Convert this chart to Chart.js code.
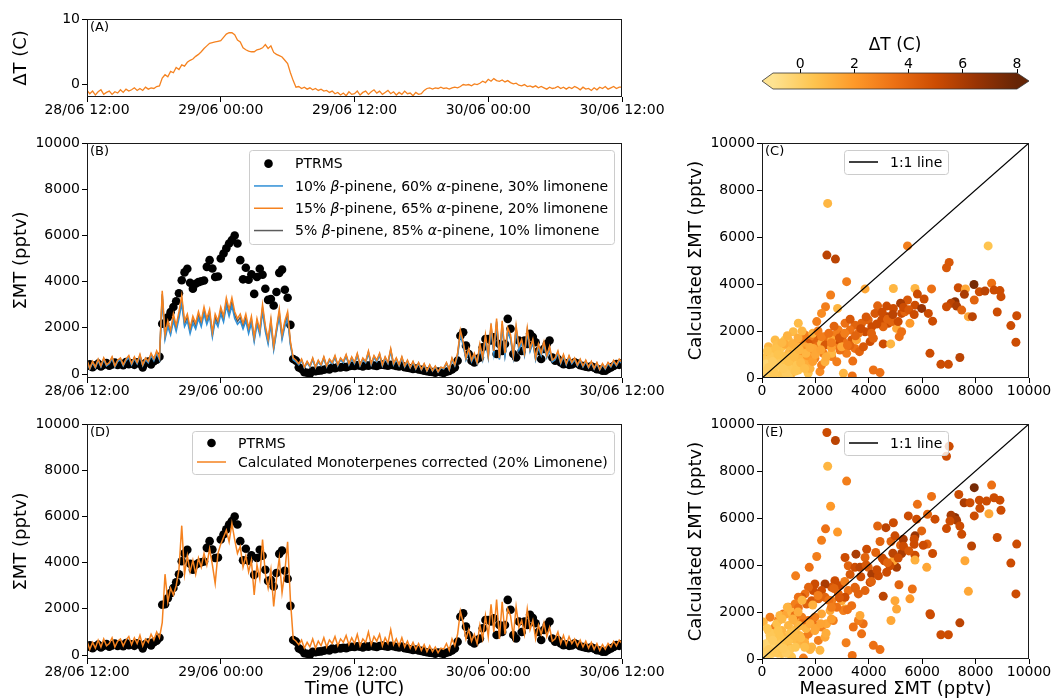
<!DOCTYPE html>
<html>
<head>
<meta charset="utf-8">
<title>Monoterpenes PTRMS vs calculated</title>
<script src="https://cdn.jsdelivr.net/npm/chart.js@4.4.1/dist/chart.umd.min.js"></script>
<style>
  html, body { margin: 0; padding: 0; background: #fff; }
  body { position: relative; width: 1052px; height: 700px; overflow: hidden; }
  canvas { position: absolute; }
</style>
</head>
<body>
<canvas id="chartA"></canvas>
<canvas id="colorbar"></canvas>
<canvas id="chartB"></canvas>
<canvas id="chartC"></canvas>
<canvas id="chartD"></canvas>
<canvas id="chartE"></canvas>
<script>
// time axis: hours after 28/06 12:00
const timeTickHours = [0, 12, 24, 36, 48];
const timeTickLabels = ['28/06 12:00', '29/06 00:00', '29/06 12:00', '30/06 00:00', '30/06 12:00'];
const mtTicks = [0, 2000, 4000, 6000, 8000, 10000];
const dtTicks = [0, 10];
const colorbarTicks = [0, 2, 4, 6, 8];

// all time series every 15 min
const stepHours = 0.25;

// (A) temperature difference (C)
const deltaT = [
  -0.9, -1.4, -1.0, -1.6, -1.1, -0.8, -1.5, -1.2,
  -1.0, -1.5, -1.1, -1.3, -0.8, -1.2, -0.7, -1.0,
  -0.8, -0.5, -0.9, -0.6, -0.9, -0.4, -0.7, -0.5,
  -0.6, -0.3, -0.2, 1.0, 1.5, 1.2, 2.0, 1.8,
  2.6, 2.3, 3.0, 2.8, 3.4, 3.7, 3.9, 4.3,
  4.6, 5.0, 5.5, 5.9, 6.3, 6.4, 6.5, 6.6,
  6.7, 7.2, 7.7, 7.9, 7.9, 7.6, 6.8, 6.5,
  5.6, 5.3, 5.1, 5.0, 5.0, 5.3, 5.4, 5.6,
  6.1, 5.5, 5.9, 4.9, 4.6, 4.4, 4.2, 3.7,
  3.2, 1.8, 0.6, -0.4, -0.3, -0.6, -0.4, -0.7,
  -0.5, -0.8, -0.6, -0.9, -0.7, -1.0, -0.9, -1.2,
  -1.0, -1.4, -1.2, -1.6, -1.3, -1.7, -1.1, -1.5,
  -1.4, -1.0, -1.6, -1.2, -1.0, -1.5, -1.1, -0.8,
  -1.3, -1.0, -1.5, -1.2, -0.9, -1.4, -1.1, -1.6,
  -1.2, -1.5, -1.0, -1.4, -1.3, -1.7, -1.2, -1.5,
  -1.4, -0.9, -0.6, -0.5, -0.7, -0.5, -0.6, -0.4,
  -0.6, -0.5, -0.7, -0.5, -0.4, -0.5, -0.3, 0.0,
  -0.1, 0.0, -0.2, 0.1, 0.0, 0.2, 0.5, 0.3,
  0.8, 0.5, 0.9, 0.6, 0.5, 0.7, 0.4, 0.6,
  0.3, 0.1, 0.2, -0.1, -0.2, 0.0, -0.3, -0.2,
  -0.4, -0.2, -0.5, -0.3, -0.5, -0.7, -0.4, -0.6,
  -0.5, -0.3, -0.6, -0.4, -0.7, -0.4, -0.6, -0.3,
  -0.5, -0.8, -0.4, -0.7, -0.6, -0.9, -0.5, -0.8,
  -0.4, -0.6, -0.3, -0.7, -0.5, -0.3, -0.6, -0.4,
  -0.4
];

// (B)/(D) monoterpenes (pptv)
const ptrms = [
  350, 420, 300, 380, 450, 330, 400, 480,
  360, 420, 500, 390, 450, 380, 520, 430,
  470, 400, 510, 450, 290, 480, 540, 420,
  560, 620, 750, 2180, 2200, 2460, 2680, 2900,
  3150, 3500, 4060, 4400, 4560, 3950, 3690, 3910,
  3980, 4020, 4050, 4640, 4930, 4570, 4200, 4220,
  5000, 5220, 5440, 5650, 5800, 6000, 5650, 4930,
  4100, 4600, 4080, 4320, 3470, 4200, 4560, 4300,
  3690, 3210, 3250, 2970, 3550, 4380, 4520, 3650,
  3300, 2130, 650, 580, 290, 220, 80, 60,
  10, 145, 120, 150, 160, 190, 220, 200,
  280, 250, 300, 290, 320, 300, 340, 360,
  350, 380, 360, 330, 380, 360, 400, 370,
  350, 390, 410, 380, 360, 400, 380, 350,
  330, 370, 300, 280, 250, 220, 240, 200,
  180, 150, 120, 100, 90, 60, 110, 80,
  50, 100, 140, 200, 290, 580, 1660, 1810,
  1230, 870, 580, 500, 650, 720, 1160, 1520,
  1520, 1450, 1590, 870, 1300, 1000, 1300, 2390,
  1960, 870, 720, 1450, 1000, 1450, 1300, 1740,
  1600, 1380, 1000, 650, 1090, 1300, 1450, 720,
  580, 650, 500, 430, 470, 400, 420, 510,
  460, 380, 350, 320, 300, 340, 280, 215,
  200, 150, 145, 220, 290, 350, 430, 400,
  480
];
const calc10Beta = [
  530, 220, 490, 270, 580, 310, 620, 360,
  450, 670, 310, 540, 620, 360, 580, 710,
  400, 670, 450, 760, 360, 620, 490, 800,
  580, 890, 620, 3300, 1500, 2050, 1700, 2300,
  1850, 2400, 3050, 2050, 2300, 1750, 2200, 1950,
  2400, 2050, 2600, 2150, 2500, 1600, 2300, 2050,
  2600, 2250, 2950, 2500, 2950, 2400, 2150, 2300,
  1950, 2300, 1750, 2200, 1400, 2150, 1700, 2700,
  1850, 1300, 2150, 1050, 1800, 2500, 1500, 2050,
  2400, 1250, 620, 530, 400, 580, 270, 490,
  310, 620, 270, 530, 360, 670, 310, 580,
  450, 710, 360, 620, 490, 760, 400, 670,
  450, 800, 360, 620, 490, 890, 400, 710,
  530, 800, 360, 670, 450, 980, 400, 620,
  360, 670, 310, 530, 270, 490, 220, 450,
  180, 400, 130, 360, 130, 310, 90, 270,
  220, 450, 180, 620, 360, 800, 1700, 1250,
  620, 980, 530, 800, 450, 1150, 620, 1500,
  710, 1950, 890, 2150, 620, 2050, 800, 1800,
  1500, 710, 1850, 1050, 1350, 800, 1800, 980,
  1350, 620, 1150, 800, 1250, 710, 1050, 530,
  620, 890, 450, 760, 400, 710, 450, 620,
  360, 580, 310, 530, 270, 490, 220, 450,
  180, 400, 220, 450, 310, 530, 360, 580,
  450
];
const calc15Beta = [
  600, 250, 550, 300, 650, 350, 700, 400,
  500, 750, 350, 600, 700, 400, 650, 800,
  450, 750, 500, 850, 400, 700, 550, 900,
  650, 1000, 700, 3600, 1700, 2300, 1900, 2600,
  2100, 2700, 3400, 2300, 2600, 2000, 2500, 2200,
  2700, 2300, 2900, 2400, 2800, 1800, 2600, 2300,
  2900, 2500, 3300, 2800, 3300, 2700, 2400, 2600,
  2200, 2600, 2000, 2500, 1600, 2400, 1900, 3000,
  2100, 1500, 2400, 1200, 2000, 2800, 1700, 2300,
  2700, 1400, 700, 600, 450, 650, 300, 550,
  350, 700, 300, 600, 400, 750, 350, 650,
  500, 800, 400, 700, 550, 850, 450, 750,
  500, 900, 400, 700, 550, 1000, 450, 800,
  600, 900, 400, 750, 500, 1100, 450, 700,
  400, 750, 350, 600, 300, 550, 250, 500,
  200, 450, 150, 400, 150, 350, 100, 300,
  250, 500, 200, 700, 400, 900, 1900, 1400,
  700, 1100, 600, 900, 500, 1300, 700, 1700,
  800, 2200, 1000, 2400, 700, 2300, 900, 2000,
  1700, 800, 2100, 1200, 1500, 900, 2000, 1100,
  1500, 700, 1300, 900, 1400, 800, 1200, 600,
  700, 1000, 500, 850, 450, 800, 500, 700,
  400, 650, 350, 600, 300, 550, 250, 500,
  200, 450, 250, 500, 350, 600, 400, 650,
  500
];
const calc5Beta = [
  570, 235, 520, 285, 615, 330, 660, 380,
  475, 710, 330, 570, 660, 380, 615, 755,
  425, 710, 475, 805, 380, 660, 520, 850,
  615, 945, 660, 3450, 1600, 2175, 1800, 2450,
  1975, 2550, 3225, 2175, 2450, 1875, 2350, 2075,
  2550, 2175, 2750, 2275, 2650, 1700, 2450, 2175,
  2750, 2375, 3125, 2650, 3125, 2550, 2275, 2450,
  2075, 2450, 1875, 2350, 1500, 2275, 1800, 2850,
  1975, 1400, 2275, 1125, 1900, 2650, 1600, 2175,
  2550, 1325, 660, 565, 425, 615, 285, 520,
  330, 660, 285, 565, 380, 710, 330, 615,
  475, 755, 380, 660, 520, 805, 425, 710,
  475, 850, 380, 660, 520, 945, 425, 755,
  565, 850, 380, 710, 475, 1040, 425, 660,
  380, 710, 330, 565, 285, 520, 235, 475,
  190, 425, 140, 380, 140, 330, 95, 285,
  235, 475, 190, 660, 380, 850, 1800, 1325,
  660, 1040, 565, 850, 475, 1225, 660, 1600,
  755, 2075, 945, 2275, 660, 2175, 850, 1900,
  1600, 755, 1975, 1125, 1425, 850, 1900, 1040,
  1425, 660, 1225, 850, 1325, 755, 1125, 565,
  660, 945, 475, 805, 425, 755, 475, 660,
  380, 615, 330, 565, 285, 520, 235, 475,
  190, 425, 235, 475, 330, 565, 380, 615,
  475
];
const calcCorrected = [
  600, 250, 550, 300, 650, 350, 700, 400,
  500, 750, 350, 600, 700, 400, 650, 800,
  450, 750, 500, 850, 400, 700, 550, 900,
  650, 1000, 750, 1400, 3500, 2300, 2900, 2600,
  3000, 3700, 5600, 3500, 4300, 3600, 4100, 3500,
  4200, 3800, 4400, 3900, 4600, 3900, 3100, 4400,
  4800, 5100, 5400, 4900, 5700, 5000, 4400, 4700,
  3800, 4300, 3600, 4100, 2600, 3900, 3300, 5000,
  3500, 2900, 3700, 2100, 3300, 4200, 2700, 3600,
  4900, 2400, 700, 600, 450, 650, 300, 550,
  350, 700, 300, 600, 400, 750, 350, 650,
  500, 800, 400, 700, 550, 850, 450, 750,
  500, 900, 400, 700, 550, 1000, 450, 800,
  600, 900, 400, 750, 500, 1100, 450, 700,
  400, 750, 350, 600, 300, 550, 250, 500,
  200, 450, 150, 400, 150, 350, 100, 300,
  250, 500, 200, 700, 400, 900, 1900, 1400,
  700, 1100, 600, 900, 500, 1300, 700, 1700,
  800, 2200, 1000, 2400, 700, 2300, 900, 2000,
  1700, 800, 2100, 1200, 1500, 900, 2000, 1100,
  1500, 700, 1300, 900, 1400, 800, 1200, 600,
  700, 1000, 500, 850, 450, 800, 500, 700,
  400, 650, 350, 600, 300, 550, 250, 500,
  200, 450, 250, 500, 350, 600, 400, 650,
  500
];

// (C) measured vs calculated (15% b-pinene mix), coloured by dT
const cMeasured = [
  2460, 2430, 2750, 5450, 8470, 3170, 3860, 2570, 2380, 2230,
  2050, 1360, 2830, 7010, 6910, 4920, 5730, 6350, 7350, 7620,
  7940, 8140, 8350, 8600, 8690, 8910, 8950, 7950, 7580, 7230,
  7080, 6910, 7290, 7480, 7730, 7880, 8810, 9540, 9320, 9510,
  5820, 6070, 5450, 5190, 5230, 5540, 5730, 6230, 6390, 5980,
  4920, 4670, 4330, 4730, 5040, 5140, 4860, 4480, 4230, 3980,
  4110, 4540, 3730, 3480, 3110, 3300, 3860, 3610, 2860, 2730,
  2360, 2110, 1920, 1800, 1730, 2050, 2230, 2480, 2800, 3040,
  3360, 3480, 3170, 2920, 2610, 2300, 1980, 2170, 2800, 3400,
  3380, 4170, 4420, 3650, 4540, 4820, 6290, 6700, 6980, 7410,
  2860, 1490, 1240, 990, 1170, 860, 1610, 1490, 1300, 990,
  740, 490, 240, 170, 490, 300, 740, 990, 1240, 1490,
  1730, 1360, 1110, 860, 610, 360, 110, 240, 490, 50,
  420, 740, 990, 110, 2230, 2360, 2610, 3050, 1170, 930,
  620, 1610, 1860, 1920, 1610, 2360, 2980, 3290, 3040, 4050,
  3800, 4170, 3540, 2610, 2230, 5230, 4700, 5350, 200, 350,
  600, 800, 1050, 1250, 1400, 650, 300, 500, 900, 1150,
  1350, 1600, 1800, 700, 400, 150, 1000, 550, 1300, 1700,
  1900, 1550, 850, 100, 250, 450, 650, 850, 1050, 1250,
  1450, 1650, 350, 550, 750, 950, 1150, 1350, 200, 400,
  600, 800, 1000, 1200, 1400, 1600, 1800, 2000, 2200, 2400,
  2600, 1900, 1500, 2100, 2500, 2700, 2900, 3100, 3300, 3500,
  3700, 3900, 4100, 4300, 4500, 4700, 4900, 5100, 5300, 5500,
  5700, 2600, 3200
];
const cCalculated = [
  7430, 5230, 5060, 5620, 5620, 4100, 3790, 3530, 3030, 2750,
  2400, 2330, 2960, 4920, 4690, 3810, 3810, 3790, 3840, 3790,
  3980, 3670, 3700, 4030, 3740, 3720, 3460, 3320, 3560, 3250,
  3180, 3030, 3060, 2890, 2610, 2610, 2810, 2650, 2230, 1520,
  3570, 3360, 3320, 3180, 2750, 2330, 3100, 2750, 2420, 2960,
  2960, 3060, 3070, 2330, 2110, 1760, 2400, 2470, 2750, 2470,
  2180, 2180, 2330, 2250, 2330, 2040, 1970, 1900, 2040, 1830,
  1760, 1690, 1620, 1760, 1470, 1330, 1470, 1550, 1400, 1550,
  1620, 1260, 1050, 1190, 910, 1050, 840, 270, 690, 720,
  90, 340, 230, 1120, 1450, 1450, 1050, 580, 580, 870,
  1620, 1620, 1470, 1620, 1970, 1620, 1330, 1050, 910, 1050,
  1330, 1620, 1330, 910, 980, 1050, 770, 620, 690, 480,
  200, 340, 200, 340, 480, 340, 200, 620, 690, 480,
  130, 130, 60, 770, 550, 690, 1050, 200, 1120, 770,
  840, 770, 1050, 1260, 1830, 1400, 1330, 1380, 1830, 1550,
  1330, 1690, 1620, 1620, 1760, 1970, 2610, 2820, 300, 550,
  250, 900, 400, 1100, 800, 1100, 800, 400, 200, 850,
  1300, 600, 400, 650, 1150, 600, 1350, 1400, 550, 950,
  700, 1150, 1450, 100, 450, 250, 550, 750, 950, 300,
  650, 1050, 900, 1250, 1500, 1800, 1450, 1700, 1150, 700,
  1000, 400, 700, 900, 1200, 400, 1300, 1000, 1200, 900,
  1300, 1900, 2000, 2000, 1900, 2200, 1700, 1900, 2500, 1800,
  2100, 2600, 1900, 2300, 2800, 2500, 2700, 2400, 3000, 2900,
  2700, 1500, 1400
];
const cDeltaT = [
  1, 5.5, 5.5, 3, 0.5, 3, 1.5, 3, 3, 2.5,
  3, 0.8, 1, 4.5, 4.5, 1, 1, 3.5, 5, 1.5,
  7.5, 5, 5.5, 3.5, 5, 5, 5, 4, 6, 7,
  5.5, 5, 6, 4, 1.5, 5.5, 5, 5, 5, 5,
  5, 5, 4.5, 6, 5, 2, 5, 5, 5, 6.5,
  5, 5, 4, 5, 1.5, 3.5, 4, 5, 4.5, 4,
  5, 4, 4, 4, 3.5, 3.5, 5, 3.5, 3, 3,
  3.5, 4.5, 4, 3, 4.5, 3.5, 1, 3.5, 3, 3.5,
  4.5, 3.5, 3, 3.5, 3, 3, 3, 2.5, 3, 3.5,
  3.5, 3.5, 3.5, 4, 5, 1, 5, 5, 5, 5.5,
  5, 3, 1.5, 1, 0.8, 0.5, 1.5, 0.5, 2, 1,
  0.5, 0.8, 1, 0.5, 2.5, 2, 0.5, 0.5, 1, 0.5,
  0.5, 0.5, 1, 0.5, 0, 0, 0, 0.5, 1, 0,
  0.3, 0.3, 0, 0.3, 3, 1.2, 1, 1, 2.5, 2,
  0.5, 1.5, 3, 1.5, 3, 4.5, 1.5, 4, 4, 5,
  4.5, 4, 1.5, 1.5, 3, 3.5, 5.5, 4, 0, 0.2,
  0.4, 0.6, 0.3, 0.7, 1, 0.5, 0.2, -0.2, 0.1, 0.8,
  1.2, 1.3, 1.1, 0.3, 0.6, -0.3, 0.9, 0.7, 0.4, 2,
  1.8, 2.2, 1.4, 0, 0.1, 0.3, 0.2, 0.5, 0.6, 0.4,
  0.8, 1, 0.3, 0.6, 0.9, 1.1, 1.2, 1.3, 0.4, 0.1,
  0.5, 0.2, 0.6, 0.8, 1, 0.7, 1.4, 1.5, 1.6, 1.3,
  1.8, 1.2, 1, 3, 3.5, 4, 4.5, 3, 4.5, 4,
  5, 4.5, 4, 5, 5, 4, 5.5, 5, 5, 4.5,
  5, 3, 3.5
];

// (E) measured vs corrected calculation
const eMeasured = [
  2430, 2750, 7010, 6910, 2460, 3170, 7950, 8600, 6350, 7370,
  7570, 7790, 8140, 8410, 8690, 8910, 8950, 8500, 8160, 7950,
  7230, 7080, 7290, 6910, 7040, 7410, 7480, 7850, 8810, 9540,
  9320, 9510, 7600, 7730, 7410, 6700, 6980, 6310, 6170, 6390,
  6190, 5980, 6200, 6480, 5790, 5820, 5480, 4920, 4640, 4330,
  4420, 4830, 4980, 5190, 5290, 5730, 5700, 6040, 5730, 5730,
  5230, 5040, 4920, 4790, 4580, 4260, 3920, 3860, 3520, 3110,
  3230, 3480, 3670, 3980, 4110, 4050, 4360, 4670, 4540, 5130,
  4980, 5040, 4830, 5540, 5630, 6290, 2230, 2380, 2830, 2570,
  2050, 1770, 1260, 3150, 3380, 4170, 4420, 3730, 3790, 3610,
  3670, 3420, 3110, 3050, 3360, 3610, 3860, 3480, 3230, 2920,
  2730, 2610, 2360, 2230, 1980, 1920, 1740, 1610, 1490, 1360,
  1240, 990, 800, 610, 300, 50, 240, 670, 920, 1110,
  1360, 1670, 1860, 2110, 2360, 2610, 2860, 2980, 3110, 2800,
  2550, 2230, 1980, 1730, 1490, 1240, 990, 740, 490, 300,
  110, 490, 740, 1110, 1550, 990, 1360, 1610, 1740, 1980,
  2230, 2420, 2670, 2110, 1860, 2170, 1240, 610, 860, 360,
  170, 2360, 1980, 1490, 1240, 490, 200, 350, 600, 800,
  1050, 1250, 1400, 650, 300, 500, 900, 1150, 1350, 1600,
  1800, 700, 150, 100, 250, 450, 650, 850, 1050, 1250,
  1450, 1650, 350, 550, 750, 950, 1150, 1350, 200, 400,
  600, 800, 1000, 1200, 1400, 1600, 1800, 2000, 2200, 2400,
  2600, 1900, 1500, 2100, 2500, 2700, 2900, 3100, 3300, 3500,
  3700, 3900, 4100, 4300, 4500, 4700, 4900, 5100, 5300, 5500,
  5700, 2600, 3200
];
const eCalculated = [
  9640, 9300, 9050, 8630, 8200, 7570, 7290, 7400, 6920, 7000,
  6650, 6650, 6760, 6720, 6860, 6760, 6330, 6180, 6410, 6090,
  6020, 6120, 5900, 5550, 5870, 5660, 5310, 4810, 5170, 4890,
  4080, 2770, 4180, 2880, 1540, 1030, 1030, 1880, 3900, 4490,
  4890, 5450, 6160, 5950, 5950, 6580, 6090, 5800, 5590, 5660,
  5000, 5000, 5240, 4840, 5100, 5240, 4880, 4840, 4420, 4210,
  4490, 3900, 4180, 3970, 4180, 4530, 4670, 4320, 4460, 4320,
  3970, 3900, 3900, 3900, 3610, 3260, 3540, 3690, 2670, 3160,
  2480, 2130, 1640, 2560, 2980, 1930, 5050, 5540, 5400, 6500,
  4360, 3900, 3540, 690, 150, 580, 400, 1070, 1500, 1640,
  1850, 1360, 2130, 2060, 2270, 2770, 2910, 3050, 2910, 3120,
  3330, 3050, 3190, 2910, 3190, 2910, 3050, 2770, 2630, 2630,
  2340, 2200, 1920, 1640, 1780, 1570, 1210, 1850, 1920, 1990,
  2170, 2340, 2480, 2560, 2630, 2480, 2770, 2480, 2630, 2200,
  2060, 1920, 1780, 1640, 1780, 1640, 1430, 1210, 1070, 790,
  510, 370, 230, 90, 40, 510, 650, 930, 1070, 1210,
  1360, 1500, 1640, 790, 510, 370, 1070, 790, 930, 230,
  90, 930, 1430, 1500, 1850, 1360, 300, 550, 250, 700,
  400, 1250, 1000, 1000, 1000, 600, 250, 850, 1450, 700,
  400, 650, 650, 150, 400, 300, 600, 800, 1100, 500,
  900, 1300, 1100, 1500, 1700, 2200, 1700, 2000, 1300, 800,
  1200, 450, 800, 1000, 1400, 500, 1500, 1300, 1500, 1100,
  1700, 2300, 2500, 2700, 2500, 3000, 2600, 3300, 3600, 3000,
  3500, 4000, 3300, 3800, 4300, 4100, 4500, 4300, 4800, 4600,
  5100, 2200, 2100
];
const eDeltaT = [
  5, 5.5, 5, 5, 1, 3, 7.5, 3.5, 3.5, 5,
  6, 5, 5, 5, 5, 5, 5, 1.5, 5, 5,
  7, 6, 6, 5, 5, 5, 5, 5.5, 5, 5,
  5, 5, 1.5, 1.5, 5.5, 5, 5, 5, 1.5, 5,
  4, 4, 4, 5, 5, 3.5, 5, 5, 5.5, 4,
  4, 4, 5, 4, 6, 6.5, 5, 5, 5, 1.2,
  6, 6, 1.5, 5, 5, 4, 5, 4, 6, 5,
  4, 5, 5.5, 4, 6, 5, 5, 5, 5.5, 4,
  1.5, 1.5, 1.5, 2, 3.5, 5, 3, 3.5, 2, 2,
  3, 3.5, 3, 3, 3.5, 3.5, 3.5, 3.5, 3.5, 3,
  1.5, 3.5, 1.5, 3, 3.5, 4, 4, 4, 3.5, 5,
  5, 4.5, 6, 5, 5, 5, 4, 3.5, 4.5, 3.5,
  3, 3, 3.5, 3, 3, 1, 1, 1, 1.5, 1,
  3.5, 4, 4.5, 4, 4, 3, 4, 1.5, 5, 3.5,
  1.5, 1.5, 3, 3.5, 3, 1.5, 1, 1, 0.5, 0.3,
  0, 0.5, 0.5, 0.5, 3, 1, 1, 2.5, 3, 1.5,
  3, 1.5, 3, 3, 1, 1, 1, 0.5, 1, 0,
  0, 1.5, 3.5, 3.5, 3.5, 3, 0, 0.2, 0.4, 0.6,
  0.3, 0.7, 1, 0.5, 0.2, -0.2, 0.1, 0.8, 1.2, 1.3,
  1.1, 0.3, -0.3, 0, 0.1, 0.3, 0.2, 0.5, 0.6, 0.4,
  0.8, 1, 0.3, 0.6, 0.9, 1.1, 1.2, 1.3, 0.4, 0.1,
  0.5, 0.2, 0.6, 0.8, 1, 0.7, 1.4, 1.5, 1.6, 1.3,
  1.8, 1.2, 1, 3, 3.5, 4, 4.5, 3, 4.5, 4,
  5, 4.5, 4, 5, 5, 4, 5.5, 5, 5, 4.5,
  5, 3, 3.5
];
const oneToOne = [0, 10000];

Chart.defaults.font.family = '"DejaVu Sans", sans-serif';
Chart.defaults.font.size = 14;
Chart.defaults.color = '#000';

const BLUE = '#2f8fd6', ORANGE = '#f5821f', GRAY = '#5c5c5c';

// truncated YlOrBr colour map used for dT
const cmapStops = [[0, 254, 227, 145], [0.1667, 254, 196, 79], [0.3333, 254, 153, 41],
  [0.5, 236, 112, 20], [0.6667, 204, 76, 2], [0.8333, 153, 52, 4], [1, 102, 37, 6]];
const dtColorMin = -1, dtColorMax = 8;
function cmap(t) {
  t = Math.max(0, Math.min(1, t));
  for (let i = 1; i < cmapStops.length; i++) {
    const a = cmapStops[i - 1], b = cmapStops[i];
    if (t <= b[0]) {
      const f = (t - a[0]) / (b[0] - a[0]);
      return 'rgb(' + [1, 2, 3].map(k => Math.round(a[k] + f * (b[k] - a[k]))).join(',') + ')';
    }
  }
  return 'rgb(102,37,6)';
}
function dtColor(v) { return cmap((v - dtColorMin) / (dtColorMax - dtColorMin)); }

function series(values, step) { return values.map((v, i) => ({ x: i * step, y: v })); }
function pairs(xs, ys) { return xs.map((x, i) => ({ x: x, y: ys[i] })); }

const legendB = [
  { kind: 'dot', color: '#000', text: [['PTRMS']] },
  { kind: 'line', color: BLUE, text: [['10% '], ['β', 1], ['-pinene, 60% '], ['α', 1], ['-pinene, 30% limonene']] },
  { kind: 'line', color: ORANGE, text: [['15% '], ['β', 1], ['-pinene, 65% '], ['α', 1], ['-pinene, 20% limonene']] },
  { kind: 'line', color: GRAY, text: [['5% '], ['β', 1], ['-pinene, 85% '], ['α', 1], ['-pinene, 10% limonene']] }
];
const legendD = [
  { kind: 'dot', color: '#000', text: [['PTRMS']] },
  { kind: 'line', color: ORANGE, text: [['Calculated Monoterpenes corrected (20% Limonene)']] }
];
const legendOne = [{ kind: 'line', color: '#000', text: [['1:1 line']] }];

const panelExtras = {
  chartA: { label: '(A)' },
  chartB: { label: '(B)', legend: { loc: 'right', rowH: 22.3, items: legendB } },
  chartC: { label: '(C)', legend: { loc: 'center', rowH: 19, items: legendOne } },
  chartD: { label: '(D)', legend: { loc: 'right', rowH: 19, items: legendD } },
  chartE: { label: '(E)', legend: { loc: 'center', rowH: 19, items: legendOne } }
};

function drawLegend(ctx, area, lg) {
  const font = '14px "DejaVu Sans"', ifont = 'italic 14px "DejaVu Sans"';
  const widthOf = segs => segs.reduce((w, s) => { ctx.font = s[1] ? ifont : font; return w + ctx.measureText(s[0]).width; }, 0);
  const textW = Math.max(...lg.items.map(it => widthOf(it.text)));
  const w = Math.round(46 + textW + 6), h = Math.round(lg.rowH * lg.items.length + 5);
  const x0 = Math.round(lg.loc === 'center' ? (area.left + area.right) / 2 - w / 2 : area.right - 8 - w);
  const y0 = Math.round(area.top + 7);
  ctx.beginPath();
  ctx.roundRect(x0 + 0.5, y0 + 0.5, w, h, 3);
  ctx.fillStyle = 'rgba(255,255,255,0.8)';
  ctx.fill();
  ctx.strokeStyle = '#cccccc';
  ctx.lineWidth = 1;
  ctx.stroke();
  lg.items.forEach((it, i) => {
    const cy = y0 + 2.5 + lg.rowH * (i + 0.5);
    if (it.kind === 'dot') {
      ctx.fillStyle = it.color;
      ctx.beginPath();
      ctx.arc(x0 + 19.5, cy, 4.3, 0, Math.PI * 2);
      ctx.fill();
    } else {
      ctx.strokeStyle = it.color;
      ctx.lineWidth = 1.5;
      ctx.beginPath();
      ctx.moveTo(x0 + 5, cy);
      ctx.lineTo(x0 + 34, cy);
      ctx.stroke();
    }
    let tx = x0 + 46;
    ctx.fillStyle = '#000';
    ctx.textBaseline = 'middle';
    ctx.textAlign = 'left';
    it.text.forEach(s => {
      ctx.font = s[1] ? ifont : font;
      ctx.fillText(s[0], tx, cy + 1);
      tx += ctx.measureText(s[0]).width;
    });
  });
}

const framePlugin = {
  id: 'frame',
  afterDatasetsDraw(chart) {
    const extra = panelExtras[chart.canvas.id] || {};
    const a = chart.chartArea, ctx = chart.ctx;
    ctx.save();
    ctx.strokeStyle = '#1a1a1a';
    ctx.lineWidth = 1;
    ctx.strokeRect(Math.round(a.left) + 0.5, Math.round(a.top) + 0.5,
      Math.round(a.right - a.left) - 1, Math.round(a.bottom - a.top) - 1);
    if (extra.label) {
      ctx.fillStyle = '#000';
      ctx.font = '13px "DejaVu Sans"';
      ctx.textBaseline = 'middle';
      ctx.textAlign = 'left';
      ctx.fillText(extra.label, a.left + 3, a.top + 8.5);
    }
    if (extra.legend) drawLegend(ctx, a, extra.legend);
    ctx.restore();
  }
};

function axis(min, max, values, labels, title, titlePad, tickPad) {
  return {
    type: 'linear', min: min, max: max,
    afterBuildTicks: s => { s.ticks = values.map(v => ({ value: v })); },
    grid: { drawOnChartArea: false, drawTicks: true, tickLength: 5, tickColor: '#000', lineWidth: 1 },
    border: { display: false },
    ticks: {
      font: { size: 14 }, color: '#000', padding: tickPad, autoSkip: false, maxRotation: 0,
      callback: (v, i) => labels ? labels[i] : String(v)
    },
    title: { display: !!title, text: title || '', color: '#000', font: { size: 18 }, padding: titlePad }
  };
}

function place(id, box) {
  const cv = document.getElementById(id);
  cv.width = box.w;
  cv.height = box.h;
  cv.style.left = box.x + 'px';
  cv.style.top = box.y + 'px';
  return cv;
}

function makePanel(id, box, plot, datasets, xAxis, yAxis) {
  const cv = place(id, box);
  xAxis.afterFit = s => { s.height = box.y + box.h - plot.y1; };
  yAxis.afterFit = s => { s.width = plot.x0 - box.x; };
  return new Chart(cv, {
    type: 'scatter',
    data: { datasets: datasets },
    options: {
      responsive: false, animation: false, events: [],
      layout: { padding: { left: 0, top: plot.y0 - box.y, right: box.x + box.w - plot.x1, bottom: 0 } },
      plugins: { legend: { display: false }, tooltip: { enabled: false } },
      scales: { x: xAxis, y: yAxis }
    },
    plugins: [framePlugin]
  });
}

function lineSet(values, step, color, width, order) {
  return { data: series(values, step), showLine: true, borderColor: color, borderWidth: width,
    pointRadius: 0, order: order };
}
function dotSet(values, step, order) {
  return { data: series(values, step), showLine: false, backgroundColor: '#000', borderColor: '#000',
    pointRadius: 4.3, pointBorderWidth: 0, order: order };
}
function scatterSets(xs, ys, dts) {
  return [
    { data: pairs(oneToOne, oneToOne), showLine: true, borderColor: '#000', borderWidth: 1.3,
      pointRadius: 0, order: 0 },
    { data: pairs(xs, ys), backgroundColor: dts.map(dtColor), pointRadius: 4.5, pointBorderWidth: 0, order: 1 }
  ];
}

const timePad = { top: 0, bottom: 0 };
const yPad = { top: 11, bottom: 0 };

// (A)
makePanel('chartA', { x: 0, y: 0, w: 680, h: 120 }, { x0: 87, x1: 622, y0: 19, y1: 97 },
  [lineSet(deltaT, stepHours, ORANGE, 1.3, 1)],
  axis(0, 48, timeTickHours, timeTickLabels, null, timePad, 0),
  axis(-1.9, 10, dtTicks, null, 'ΔT (C)', yPad, 2));

// (B)
makePanel('chartB', { x: 0, y: 118, w: 680, h: 285 }, { x0: 87, x1: 622, y0: 143, y1: 378 },
  [dotSet(ptrms, stepHours, 4), lineSet(calc5Beta, stepHours, GRAY, 1.5, 3),
   lineSet(calc10Beta, stepHours, BLUE, 1.5, 2), lineSet(calc15Beta, stepHours, ORANGE, 1.5, 1)],
  axis(0, 48, timeTickHours, timeTickLabels, null, timePad, 0),
  axis(-170, 10000, mtTicks, null, 'ΣMT (pptv)', yPad, 2));

// (C)
makePanel('chartC', { x: 676, y: 118, w: 376, h: 285 }, { x0: 762, x1: 1029, y0: 143, y1: 378 },
  scatterSets(cMeasured, cCalculated, cDeltaT),
  axis(0, 10000, mtTicks, null, null, timePad, 0),
  axis(0, 10000, mtTicks, null, 'Calculated ΣMT (pptv)', { top: 10, bottom: 0 }, 2));

// (D)
makePanel('chartD', { x: 0, y: 403, w: 680, h: 297 }, { x0: 87, x1: 622, y0: 424, y1: 659 },
  [dotSet(ptrms, stepHours, 2), lineSet(calcCorrected, stepHours, ORANGE, 1.5, 1)],
  axis(0, 48, timeTickHours, timeTickLabels, 'Time (UTC)', timePad, 0),
  axis(-170, 10000, mtTicks, null, 'ΣMT (pptv)', yPad, 2));

// (E)
makePanel('chartE', { x: 676, y: 403, w: 376, h: 297 }, { x0: 762, x1: 1029, y0: 424, y1: 659 },
  scatterSets(eMeasured, eCalculated, eDeltaT),
  axis(0, 10000, mtTicks, null, 'Measured ΣMT (pptv)', timePad, 0),
  axis(0, 10000, mtTicks, null, 'Calculated ΣMT (pptv)', { top: 10, bottom: 0 }, 2));

// colour bar for dT
const colorbarPlugin = {
  id: 'colorbarFill',
  afterDraw(chart) {
    const a = chart.chartArea, ctx = chart.ctx;
    const mid = (a.top + a.bottom) / 2;
    const g = ctx.createLinearGradient(a.left, 0, a.right, 0);
    cmapStops.forEach(s => g.addColorStop(s[0], 'rgb(' + s[1] + ',' + s[2] + ',' + s[3] + ')'));
    ctx.save();
    ctx.fillStyle = g;
    ctx.fillRect(a.left, a.top, a.right - a.left, a.bottom - a.top);
    ctx.fillStyle = cmap(0);
    ctx.beginPath();
    ctx.moveTo(a.left, a.top); ctx.lineTo(a.left - 11, mid); ctx.lineTo(a.left, a.bottom);
    ctx.closePath(); ctx.fill();
    ctx.fillStyle = cmap(1);
    ctx.beginPath();
    ctx.moveTo(a.right, a.top); ctx.lineTo(a.right + 12, mid); ctx.lineTo(a.right, a.bottom);
    ctx.closePath(); ctx.fill();
    ctx.strokeStyle = '#333';
    ctx.lineWidth = 0.8;
    ctx.beginPath();
    ctx.moveTo(a.left, a.top); ctx.lineTo(a.right, a.top); ctx.lineTo(a.right + 12, mid);
    ctx.lineTo(a.right, a.bottom); ctx.lineTo(a.left, a.bottom); ctx.lineTo(a.left - 11, mid);
    ctx.closePath(); ctx.stroke();
    ctx.restore();
  }
};

(function () {
  const box = { x: 740, y: 20, w: 312, h: 80 }, plot = { x0: 773, x1: 1017, y0: 73, y1: 89 };
  const cv = place('colorbar', box);
  const xAxis = axis(dtColorMin, dtColorMax, colorbarTicks, null, 'ΔT (C)', { top: 15, bottom: 0 }, -4);
  xAxis.position = 'top';
  xAxis.grid.tickLength = 4;
  xAxis.title.font = { size: 17 };
  xAxis.afterFit = s => { s.height = plot.y0 - box.y; };
  new Chart(cv, {
    type: 'scatter',
    data: { datasets: [] },
    options: {
      responsive: false, animation: false, events: [],
      layout: { padding: { left: plot.x0 - box.x, right: box.x + box.w - plot.x1, top: 0, bottom: box.y + box.h - plot.y1 } },
      plugins: { legend: { display: false }, tooltip: { enabled: false } },
      scales: { x: xAxis, y: { display: false, min: 0, max: 1 } }
    },
    plugins: [colorbarPlugin]
  });
})();
</script>
</body>
</html>
